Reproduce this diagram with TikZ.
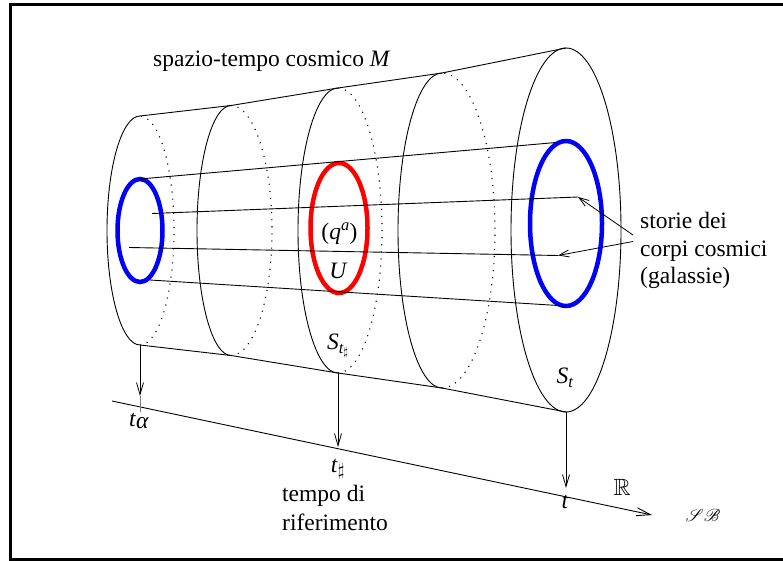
\documentclass[tikz,border=0pt]{standalone}
\usepackage{amsmath,amssymb,mathrsfs}
\usepackage{fontspec}
\setmainfont{Liberation Serif}
\usetikzlibrary{arrows.meta}
\begin{document}
\begin{tikzpicture}[x=1pt,y=-1pt,
  every node/.style={inner sep=0pt, font=\fontsize{23.5}{28}\selectfont},
  cyl/.style={line width=0.9pt},
  back/.style={line width=1.1pt, dash pattern=on 1.1pt off 6pt},
  world/.style={line width=0.9pt},
  galaxy/.style={line width=4.5pt, draw=blue},
  region/.style={line width=4.5pt, draw=red},
  proj/.style={line width=0.8pt, -{Straight Barb[length=12pt,width=7pt]}},
  pointer/.style={line width=0.8pt, -{Straight Barb[length=10pt,width=7pt]}},
  axisline/.style={line width=0.9pt, -{Straight Barb[length=14pt,width=8pt]}}]
\path[use as bounding box, fill=white] (0,0) rectangle (783,561);
\clip (0,0) rectangle (783,561);
% frame
\draw[line width=3pt] (795,4.5) -- (10.5,4.5) -- (10.5,559.5) -- (795,559.5);
% cylinder sections
\foreach \cx/\ry/\rl/\rr in {140/114.5/33/34, 231/125/34/41, 338/142.5/40/44, 442/157.5/44/53}{
  \draw[cyl] (\cx,230.5+\ry) arc[start angle=90,end angle=270,x radius=\rl,y radius=\ry];
  \draw[back] (\cx,230.5+\ry) arc[start angle=90,end angle=-90,x radius=\rr,y radius=\ry];
}
\draw[cyl] (566,230) ellipse[x radius=55,y radius=182];
% generators
\draw[cyl] (140,116) -- (231,105.5) -- (338,88) -- (442,73) -- (566,48);
\coordinate (b1) at (140,345);
\coordinate (b3) at (338,373);
\coordinate (b5) at (566,412);
\draw[cyl] (b1) -- (231,355.5) -- (b3) -- (442,388) -- (b5);
% galaxies and region
\draw[galaxy] (140,230.5) ellipse[x radius=22.5,y radius=51.5];
\draw[region] (339,228) ellipse[x radius=28.5,y radius=65];
\draw[galaxy] (566,223.5) ellipse[x radius=36,y radius=82.5];
% world lines
\draw[world] (140,179) -- (556,142.5);
\coordinate (tip1) at (578,197);
\coordinate (tip2) at (558,255.5);
\draw[world] (152,213.5) -- (tip1);
\draw[world] (129,247.5) -- (tip2);
\draw[world] (150,280) -- (566,306);
% labels
\node[anchor=base west] (title) at (153,66.5) {spazio-tempo cosmico \textit{M}};
\node (qa) at (339.5,233.5) {(\textit{q}$^{\textit{a}}$)};
\node (U) at (338.5,271) {\textit{U}};
\node (Ssharp) at (338,346) {\textit{S}$_{\textit{t}_\sharp}$};
\node (St) at (565,378) {\textit{S}$_{\textit{t}}$};
\node[anchor=base west] (st1) at (640,228.5) {storie dei};
\node[anchor=base west] (st2) at (640,256.5) {corpi cosmici};
\node[anchor=base west] (st3) at (640,283) {(galassie)};
\coordinate (from1) at (633,235);
\coordinate (from2) at (633,241.5);
\draw[pointer] (from1) -- (tip1);
\draw[pointer] (from2) -- (tip2);
% time axis
\coordinate (ax0) at (112,401);
\coordinate (ax1) at (652,515);
\draw[axisline] (ax0) -- (ax1);
\coordinate (pa) at (140,396);
\coordinate (pb) at (338,447);
\coordinate (pc) at (566,488);
\draw[proj] (b1) -- (pa);
\draw[line width=0.6pt, gray] (pa) -- (140,412);
\draw[proj] (b3) -- (pb);
\draw[proj] (b5) -- (pc);
\node (ta) at (139,421) {\textit{t}\raisebox{-0.2ex}{\textit{α}}};
\node (tsharp) at (338,469) {\textit{t}$_\sharp$};
\node[anchor=base west] (rif1) at (282,501.5) {tempo di};
\node[anchor=base west] (rif2) at (282,530) {riferimento};
\node (tlab) at (565,502) {\textit{t}};
\node (R) at (622,487.5) {$\mathbb{R}$};
\node[font=\fontsize{18}{20}\selectfont] (SB) at (703,515) {$\mathscr{S}\mathscr{B}$};
\end{tikzpicture}
\end{document}
